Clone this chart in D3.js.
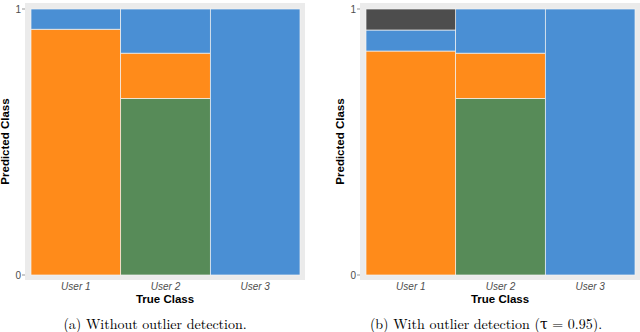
<!DOCTYPE html>
<html lang="en">
<head>
<meta charset="UTF-8">
<title>Spineplots</title>
<script src="https://d3js.org/d3.v7.min.js"></script>
<style>
  body { margin: 0; background: #fff; }
  svg { display: block; }
  .tick-lab { font-family: "Liberation Sans", Arial, sans-serif; font-size: 10px; fill: #4d4d4d; }
  .x-lab { font-style: italic; }
  .axis-title { font-family: "Liberation Sans", Arial, sans-serif; font-size: 11.5px; font-weight: bold; fill: #000; }
  .caption { font-family: "Latin Modern Roman", "DejaVu Serif", serif; font-size: 14px; fill: #000; }
</style>
</head>
<body>
<svg id="chart" width="640" height="332"></svg>
<script>
// true classes on the x axis
const users = ["User 1", "User 2", "User 3"];
// predicted classes, stacked bottom -> top
const predicted = ["User 2", "User 1", "User 3", "Outlier"];
const colors = { "User 1": "#ff8b1a", "User 2": "#578b58", "User 3": "#4a8fd4", "Outlier": "#4d4d4d" };

// share of each predicted class per true class
const withoutOutlier = [
  { user: "User 1", "User 2": 0,     "User 1": 0.924, "User 3": 0.076, "Outlier": 0 },
  { user: "User 2", "User 2": 0.664, "User 1": 0.170, "User 3": 0.166, "Outlier": 0 },
  { user: "User 3", "User 2": 0,     "User 1": 0,     "User 3": 1,     "Outlier": 0 }
];
const withOutlier = [
  { user: "User 1", "User 2": 0,     "User 1": 0.842, "User 3": 0.079, "Outlier": 0.079 },
  { user: "User 2", "User 2": 0.664, "User 1": 0.170, "User 3": 0.166, "Outlier": 0 },
  { user: "User 3", "User 2": 0,     "User 1": 0,     "User 3": 1,     "Outlier": 0 }
];
const captions = ["(a) Without outlier detection.", "(b) With outlier detection (\u03c4 = 0.95)."];

const svg = d3.select("#chart");
const stack = d3.stack().keys(predicted);

function drawPanel(data, left, caption, capShift) {
  const panel = { x0: left, x1: left + 280, y0: 3, y1: 280 };
  const x = d3.scaleBand().domain(users).range([left + 6, left + 275]).padding(0);
  const y = d3.scaleLinear().domain([0, 1]).range([275, 9]);
  const g = svg.append("g");

  g.append("rect")
    .attr("x", panel.x0).attr("y", panel.y0)
    .attr("width", panel.x1 - panel.x0).attr("height", panel.y1 - panel.y0)
    .attr("fill", "#ebebeb");

  const series = stack(data);
  g.selectAll("g.layer")
    .data(series)
    .join("g")
    .attr("class", "layer")
    .attr("fill", d => colors[d.key])
    .selectAll("rect")
    .data(d => d.filter(s => s[1] - s[0] > 0))
    .join("rect")
    .attr("x", d => x(d.data.user))
    .attr("width", x.bandwidth())
    .attr("y", d => y(d[1]))
    .attr("height", d => y(d[0]) - y(d[1]))
    .attr("stroke", "#f2f2f2")
    .attr("stroke-width", 0.7);

  // y axis: ticks 0 and 1 only
  const yTicks = [0, 1];
  g.selectAll("line.ytick").data(yTicks).join("line")
    .attr("x1", panel.x0 - 3).attr("x2", panel.x0)
    .attr("y1", d => y(d)).attr("y2", d => y(d))
    .attr("stroke", "#4d4d4d").attr("stroke-width", 0.6);
  g.selectAll("text.ylab").data(yTicks).join("text")
    .attr("class", "tick-lab")
    .attr("x", panel.x0 - 4).attr("y", d => y(d))
    .attr("dy", "0.35em").attr("text-anchor", "end")
    .text(d => d);

  // x labels
  g.selectAll("text.xlab").data(users).join("text")
    .attr("class", "tick-lab x-lab")
    .attr("x", d => x(d) + x.bandwidth() / 2).attr("y", 290)
    .attr("text-anchor", "middle")
    .text(d => d);

  const mid = (panel.x0 + panel.x1) / 2;
  g.append("text").attr("class", "axis-title")
    .attr("x", mid).attr("y", 303).attr("text-anchor", "middle")
    .text("True Class");
  g.append("text").attr("class", "axis-title")
    .attr("transform", `translate(${left - 16},${(panel.y0 + panel.y1) / 2}) rotate(-90)`)
    .attr("text-anchor", "middle")
    .text("Predicted Class");

  g.append("text").attr("class", "caption")
    .attr("x", mid + capShift).attr("y", 329).attr("text-anchor", "middle")
    .text(caption);
}

drawPanel(withoutOutlier, 25, captions[0], -10);
drawPanel(withOutlier, 360, captions[1], -14);
</script>
</body>
</html>
